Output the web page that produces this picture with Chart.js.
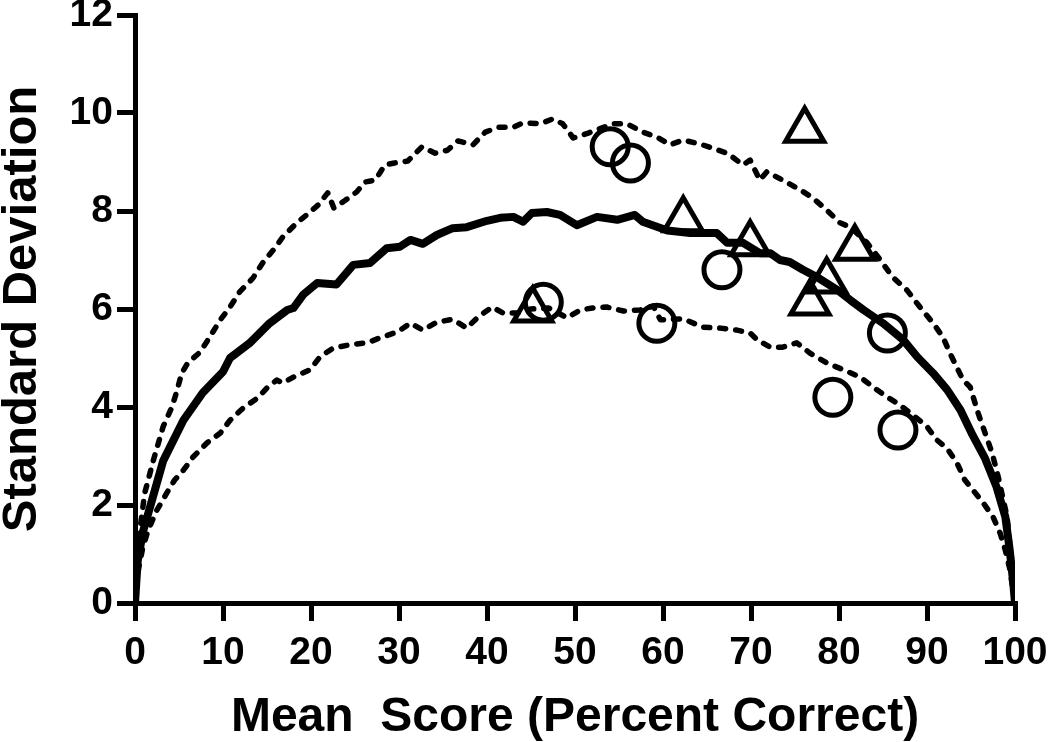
<!DOCTYPE html>
<html>
<head>
<meta charset="utf-8">
<script src="https://cdn.jsdelivr.net/npm/chart.js@4.4.1/dist/chart.umd.min.js"></script>
<style>
  html, body { margin: 0; padding: 0; background: #fff; }
  #wrap { width: 1050px; height: 742px; position: relative; }
</style>
</head>
<body>
<div id="wrap"><canvas id="chart"></canvas></div>
<script>
// solid curve (mean SD)
const meanX  = [0, 0.3, 0.9, 1.7, 3.2, 5.5, 7.7, 10, 10.8, 13, 15.3, 17.3, 18, 19.1, 20.7, 22.9, 24.8, 26.7, 28.6, 30.1, 31.3, 32.7, 34.3, 36.1, 37.7, 40, 41.5, 43, 44.1, 45.1, 46.8, 48.3, 50.2, 52.5, 54.8, 56.8, 57.7, 60.5, 63.1, 66.1, 67.3, 69.1, 71, 72.2, 73.3, 74.4, 75.9, 77.5, 79.8, 81.3, 82.8, 85, 87.3, 88.9, 90.7, 92.3, 93.8, 95.2, 96.6, 97.9, 98.9, 99.4, 99.8, 100];
const meanSD = [0, 0.85, 1.45, 1.95, 2.9, 3.73, 4.29, 4.72, 5.0, 5.3, 5.71, 5.98, 6.02, 6.29, 6.53, 6.5, 6.9, 6.94, 7.24, 7.27, 7.41, 7.33, 7.51, 7.65, 7.67, 7.8, 7.86, 7.88, 7.78, 7.96, 7.98, 7.92, 7.71, 7.88, 7.82, 7.92, 7.78, 7.6, 7.55, 7.55, 7.35, 7.35, 7.14, 7.14, 7.0, 6.96, 6.8, 6.65, 6.39, 6.18, 5.98, 5.71, 5.37, 5.02, 4.69, 4.35, 3.94, 3.42, 2.95, 2.37, 1.76, 1.08, 0.41, 0];

// upper dashed curve
const upperX  = [0, 0.3, 0.6, 1.1, 2.1, 3.2, 4.2, 4.8, 5.3, 6.0, 7.4, 8.5, 9.7, 10.8, 11.9, 13.4, 14.5, 15.7, 16.8, 18.4, 19.5, 20.8, 21.9, 22.6, 23.9, 25.2, 26.1, 27.3, 28.4, 29.5, 31, 32.6, 34.1, 35.5, 36.7, 38.4, 39.8, 41.3, 43, 44.1, 46, 47.5, 48.6, 49.8, 51.5, 54.3, 55.9, 57.7, 59.3, 60.8, 62.3, 64.5, 67.3, 69.1, 69.9, 71, 71.8, 73.6, 75.6, 77, 78.6, 80.1, 81.3, 83.2, 84.7, 86.1, 87.7, 89.2, 90.7, 91.8, 92.6, 94.1, 94.9, 95.8, 96.6, 97.4, 98.1, 98.6, 99.1, 99.4, 99.8, 100];
const upperSD = [0, 1.0, 1.55, 2.24, 2.92, 3.6, 4.0, 4.35, 4.69, 4.9, 5.12, 5.43, 5.78, 6.04, 6.35, 6.63, 6.94, 7.2, 7.47, 7.76, 7.92, 8.12, 8.37, 8.06, 8.22, 8.39, 8.59, 8.63, 8.94, 8.98, 9.02, 9.31, 9.18, 9.24, 9.43, 9.35, 9.61, 9.71, 9.71, 9.8, 9.78, 9.88, 9.78, 9.49, 9.59, 9.78, 9.78, 9.61, 9.51, 9.35, 9.45, 9.35, 9.18, 8.94, 9.04, 8.63, 8.8, 8.63, 8.43, 8.27, 8.02, 7.76, 7.67, 7.35, 7.0, 6.65, 6.39, 6.04, 5.71, 5.43, 5.1, 4.55, 4.41, 3.88, 3.47, 3.06, 2.57, 2.16, 1.76, 1.22, 0.6, 0];

// lower dashed curve
const lowerX  = [0, 0.4, 0.9, 1.5, 2.5, 3.6, 4.5, 5.5, 6.6, 8.2, 9.7, 10.8, 12.3, 13.9, 15, 16.1, 16.8, 18, 19.9, 21, 22.5, 24.4, 26.4, 27.8, 29.8, 31.3, 32.7, 34.3, 36.1, 37.7, 39, 40.6, 41.8, 43.4, 45, 47, 49.1, 50.6, 52, 53.6, 55.5, 57.4, 58.9, 59.7, 62.3, 64.5, 66.5, 68.4, 69.9, 70.7, 72.2, 73.6, 75.2, 76.7, 78.6, 80.5, 82.4, 84.3, 85.5, 86.6, 88.1, 90, 91.1, 92.3, 93.4, 94.3, 95.2, 96.4, 97.5, 98.3, 98.9, 99.4, 100];
const lowerSD = [0, 0.7, 1.14, 1.49, 1.9, 2.24, 2.51, 2.71, 2.98, 3.27, 3.47, 3.73, 3.98, 4.18, 4.39, 4.55, 4.49, 4.61, 4.76, 5.02, 5.2, 5.27, 5.31, 5.41, 5.53, 5.71, 5.57, 5.73, 5.79, 5.61, 5.84, 6.04, 5.92, 5.92, 6.0, 6.02, 5.82, 5.98, 6.02, 6.04, 5.96, 5.98, 6.06, 5.78, 5.8, 5.63, 5.61, 5.57, 5.51, 5.37, 5.22, 5.22, 5.31, 5.1, 4.9, 4.76, 4.61, 4.35, 4.2, 4.08, 3.88, 3.6, 3.33, 3.15, 2.86, 2.51, 2.31, 2.04, 1.76, 1.43, 1.08, 0.7, 0];

// observed points
const circleX  = [46.4, 54.0, 56.3, 59.3, 66.7, 79.3, 85.5, 86.7];
const circleSD = [6.14, 9.31, 8.98, 5.71, 6.8, 4.2, 5.51, 3.53];
const triX  = [45.2, 62.3, 69.9, 76.1, 76.7, 78.6, 81.8];
const triSD = [5.98, 7.82, 7.33, 9.65, 6.12, 6.57, 7.24];

const xTitle = 'Mean  Score (Percent Correct)';
const yTitle = 'Standard Deviation';

const pts = (xs, ys) => xs.map((x, i) => ({ x: x, y: ys[i] }));

Chart.defaults.font.family = '"Liberation Sans", Arial, sans-serif';
Chart.defaults.font.weight = 'bold';
Chart.defaults.color = '#000';

const lineDs = (data, width, dash) => ({
  data: data, showLine: true, pointRadius: 0, borderColor: '#000',
  borderWidth: width, borderDash: dash, borderCapStyle: 'round',
  borderJoinStyle: 'round', tension: 0, fill: false
});

new Chart(document.getElementById('chart'), {
  type: 'scatter',
  data: {
    datasets: [
      lineDs(pts(upperX, upperSD), 5.5, [6, 10]),
      lineDs(pts(lowerX, lowerSD), 5.5, [6, 10]),
      lineDs(pts(meanX, meanSD), 8, []),
      { data: pts(circleX, circleSD), pointStyle: 'circle', pointRadius: 18,
        borderColor: '#000', backgroundColor: 'rgba(0,0,0,0)', borderWidth: 5 },
      { data: pts(triX, triSD), pointStyle: 'triangle', pointRadius: 22,
        borderColor: '#000', backgroundColor: 'rgba(0,0,0,0)', borderWidth: 5 }
    ]
  },
  options: {
    responsive: true,
    maintainAspectRatio: false,
    animation: false,
    layout: { autoPadding: false, padding: { top: 15, right: 35, bottom: 0, left: 0 } },
    plugins: { legend: { display: false }, tooltip: { enabled: false } },
    scales: {
      x: {
        type: 'linear', min: 0, max: 100,
        ticks: { stepSize: 10, padding: 9, maxRotation: 0, font: { size: 39, weight: 'bold', lineHeight: 1.2 }, color: '#000' },
        grid: { display: true, drawOnChartArea: false, drawTicks: true, tickLength: 18, lineWidth: 5, color: '#000' },
        border: { display: true, width: 5, color: '#000' },
        title: { display: true, text: xTitle, color: '#000', font: { size: 48, weight: 'bold', lineHeight: 1 }, padding: { top: 0, bottom: 0 } },
        afterFit: s => { s.height = 139; s.paddingLeft = 0; s.paddingRight = 0; }
      },
      y: {
        type: 'linear', min: 0, max: 12,
        ticks: { stepSize: 2, padding: 4, font: { size: 39, weight: 'bold', lineHeight: 0.8 }, color: '#000' },
        grid: { display: true, drawOnChartArea: false, drawTicks: true, tickLength: 18, lineWidth: 5, color: '#000' },
        border: { display: true, width: 5, color: '#000' },
        title: { display: true, text: yTitle, color: '#000', font: { size: 49, weight: 'bold', lineHeight: 0.9 }, padding: { top: 0, bottom: 0 } },
        afterFit: s => { s.width = 135; s.paddingTop = 0; s.paddingBottom = 0; }
      }
    }
  }
});
</script>
</body>
</html>
